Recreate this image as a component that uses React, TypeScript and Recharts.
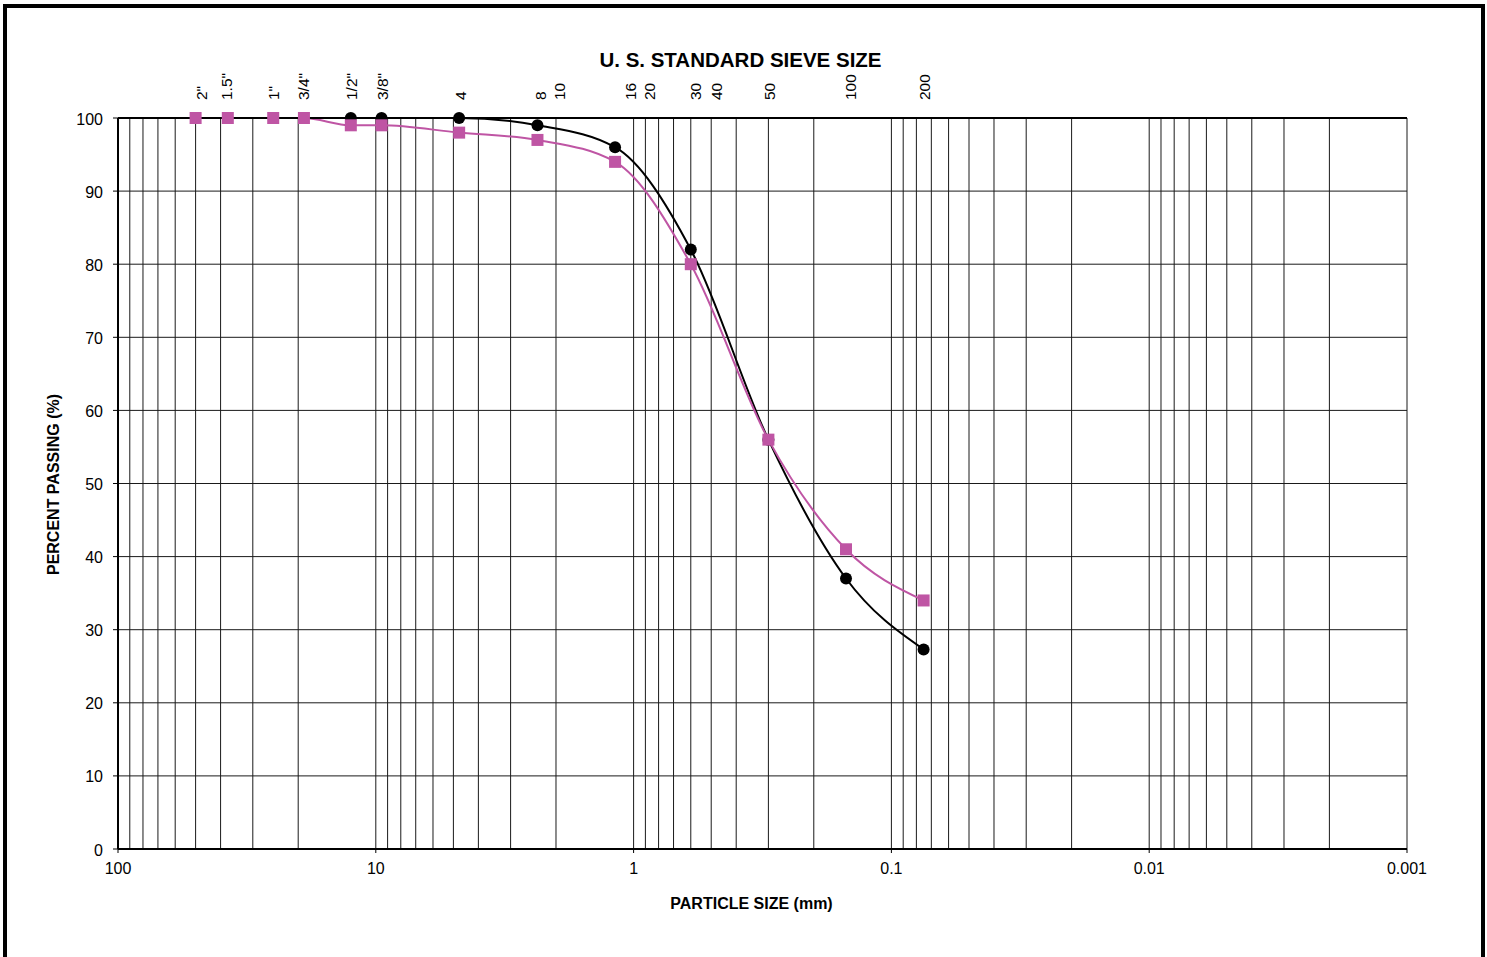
import React from 'react';
import { ComposedChart, Line, XAxis, YAxis, CartesianGrid } from 'recharts';

// sieve openings (mm) and percent passing
const sampleASizes = [12.5, 9.5, 4.75, 2.36, 1.18, 0.6, 0.3, 0.15, 0.075];
const sampleAPassing = [100, 100, 100, 99, 96, 82, 56, 37, 27.3];

const sampleBSizes = [50, 37.5, 25, 19, 12.5, 9.5, 4.75, 2.36, 1.18, 0.6, 0.3, 0.15, 0.075];
const sampleBPassing = [100, 100, 100, 100, 99, 99, 98, 97, 94, 80, 56, 41, 34];

// sieve names along the top and where they sit (mm)
const sieveLabels = ['2"', '1.5"', '1"', '3/4"', '1/2"', '3/8"', '4', '8', '10', '16', '20', '30', '40', '50', '100', '200'];
const sieveLabelAt = [47.6, 37.8, 25.0, 19.0, 12.4, 9.38, 4.71, 2.29, 1.93, 1.03, 0.864, 0.573, 0.479, 0.296, 0.1435, 0.0741];

const decadeTicks = [100, 10, 1, 0.1, 0.01, 0.001];
const decadeLabels = ['100', '10', '1', '0.1', '0.01', '0.001'];
const minorSteps = [2, 3, 4, 5, 6, 7, 8, 9];
const percentTicks = [0, 10, 20, 30, 40, 50, 60, 70, 80, 90, 100];

const gridTicks: number[] = [...decadeTicks];
decadeTicks.slice(1).forEach((d) => minorSteps.forEach((m) => gridTicks.push(d * m)));
gridTicks.sort((a, b) => b - a);

const blackData = sampleASizes.map((size, i) => ({ size, pct: sampleAPassing[i] }));
const pinkData = sampleBSizes.map((size, i) => ({ size, pct: sampleBPassing[i] }));

const FONT = '"Liberation Sans", Arial, sans-serif';
const PINK = '#BF55A4';

const BottomTick = ({ x, y, payload }: any) => {
    const idx = decadeTicks.findIndex((d) => Math.abs(d - payload.value) < d * 1e-6);
    if (idx < 0) return null;
    return (
        <g>
            <line x1={x} x2={x} y1={y - 4} y2={y} stroke="#000" strokeWidth={1} />
            <text x={x} y={y + 21} textAnchor="middle" fontSize={16} fontFamily={FONT} fill="#000">
                {decadeLabels[idx]}
            </text>
        </g>
    );
};

const LeftTick = ({ x, y, payload }: any) => (
    <text x={x} y={y + 1} textAnchor="end" dominantBaseline="central" fontSize={16} fontFamily={FONT} fill="#000">
        {payload.value}
    </text>
);

const TopTick = ({ x, index }: any) => (
    <text
        x={x}
        y={100}
        transform={`rotate(-90, ${x}, 100)`}
        textAnchor="start"
        dominantBaseline="central"
        fontSize={15.5}
        fontFamily={FONT}
        fill="#000"
    >
        {sieveLabels[index]}
    </text>
);

const SquareDot = (props: any) => {
    const { cx, cy, index } = props;
    return <rect key={`sq-${index}`} x={cx - 6} y={cy - 6} width={12} height={12} fill={PINK} />;
};

const RoundDot = (props: any) => {
    const { cx, cy, index } = props;
    return <circle key={`ci-${index}`} cx={cx} cy={cy} r={6} fill="#000" />;
};

export default function App() {
    return (
        <div style={{ position: 'absolute', left: 0, top: 0, width: 1487, height: 957, overflow: 'hidden', background: '#fff' }}>
            <div
                style={{
                    position: 'absolute',
                    left: 3,
                    top: 4,
                    width: 1482,
                    height: 1000,
                    border: '4px solid #000',
                    boxSizing: 'border-box',
                }}
            />
            <div style={{ position: 'absolute', left: 0, top: 0 }}>
                <ComposedChart width={1487} height={957} margin={{ top: 72, right: 80, bottom: 48, left: 58 }}>
                    <CartesianGrid stroke="#1a1a1a" strokeWidth={1} horizontal={true} vertical={true} />
                    <XAxis
                        dataKey="size"
                        type="number"
                        scale="log"
                        domain={[0.001, 100]}
                        reversed
                        allowDataOverflow
                        ticks={gridTicks}
                        interval={0}
                        height={60}
                        tickSize={4}
                        tickMargin={0}
                        tickLine={false}
                        tick={<BottomTick />}
                        axisLine={{ stroke: '#000', strokeWidth: 2 }}
                        label={{
                            content: () => (
                                <text x={751.5} y={909} textAnchor="middle" fontSize={16} fontWeight="bold" fontFamily={FONT} fill="#000">
                                    PARTICLE SIZE (mm)
                                </text>
                            ),
                        }}
                    />
                    <XAxis
                        xAxisId="top"
                        orientation="top"
                        dataKey="size"
                        type="number"
                        scale="log"
                        domain={[0.001, 100]}
                        reversed
                        allowDataOverflow
                        ticks={sieveLabelAt}
                        interval={0}
                        height={46}
                        tickSize={0}
                        tickMargin={0}
                        tickLine={false}
                        tick={<TopTick />}
                        axisLine={{ stroke: '#000', strokeWidth: 2 }}
                        label={{
                            content: () => (
                                <text x={740.5} y={67} textAnchor="middle" fontSize={20.5} fontWeight="bold" fontFamily={FONT} fill="#000">
                                    U. S. STANDARD SIEVE SIZE
                                </text>
                            ),
                        }}
                    />
                    <YAxis
                        type="number"
                        domain={[0, 100]}
                        ticks={percentTicks}
                        interval={0}
                        width={60}
                        tickSize={5}
                        tickMargin={10}
                        tick={<LeftTick />}
                        tickLine={{ stroke: '#000', strokeWidth: 1 }}
                        axisLine={{ stroke: '#000', strokeWidth: 2 }}
                        label={{
                            content: () => (
                                <text
                                    x={59}
                                    y={484.5}
                                    transform="rotate(-90, 59, 484.5)"
                                    textAnchor="middle"
                                    fontSize={16}
                                    fontWeight="bold"
                                    fontFamily={FONT}
                                    fill="#000"
                                >
                                    PERCENT PASSING (%)
                                </text>
                            ),
                        }}
                    />
                    <Line
                        data={blackData}
                        dataKey="pct"
                        type="monotone"
                        stroke="#000"
                        strokeWidth={2}
                        dot={RoundDot}
                        activeDot={false}
                        isAnimationActive={false}
                    />
                    <Line
                        data={pinkData}
                        dataKey="pct"
                        type="monotone"
                        stroke={PINK}
                        strokeWidth={2}
                        dot={SquareDot}
                        activeDot={false}
                        isAnimationActive={false}
                    />
                </ComposedChart>
            </div>
        </div>
    );
}
